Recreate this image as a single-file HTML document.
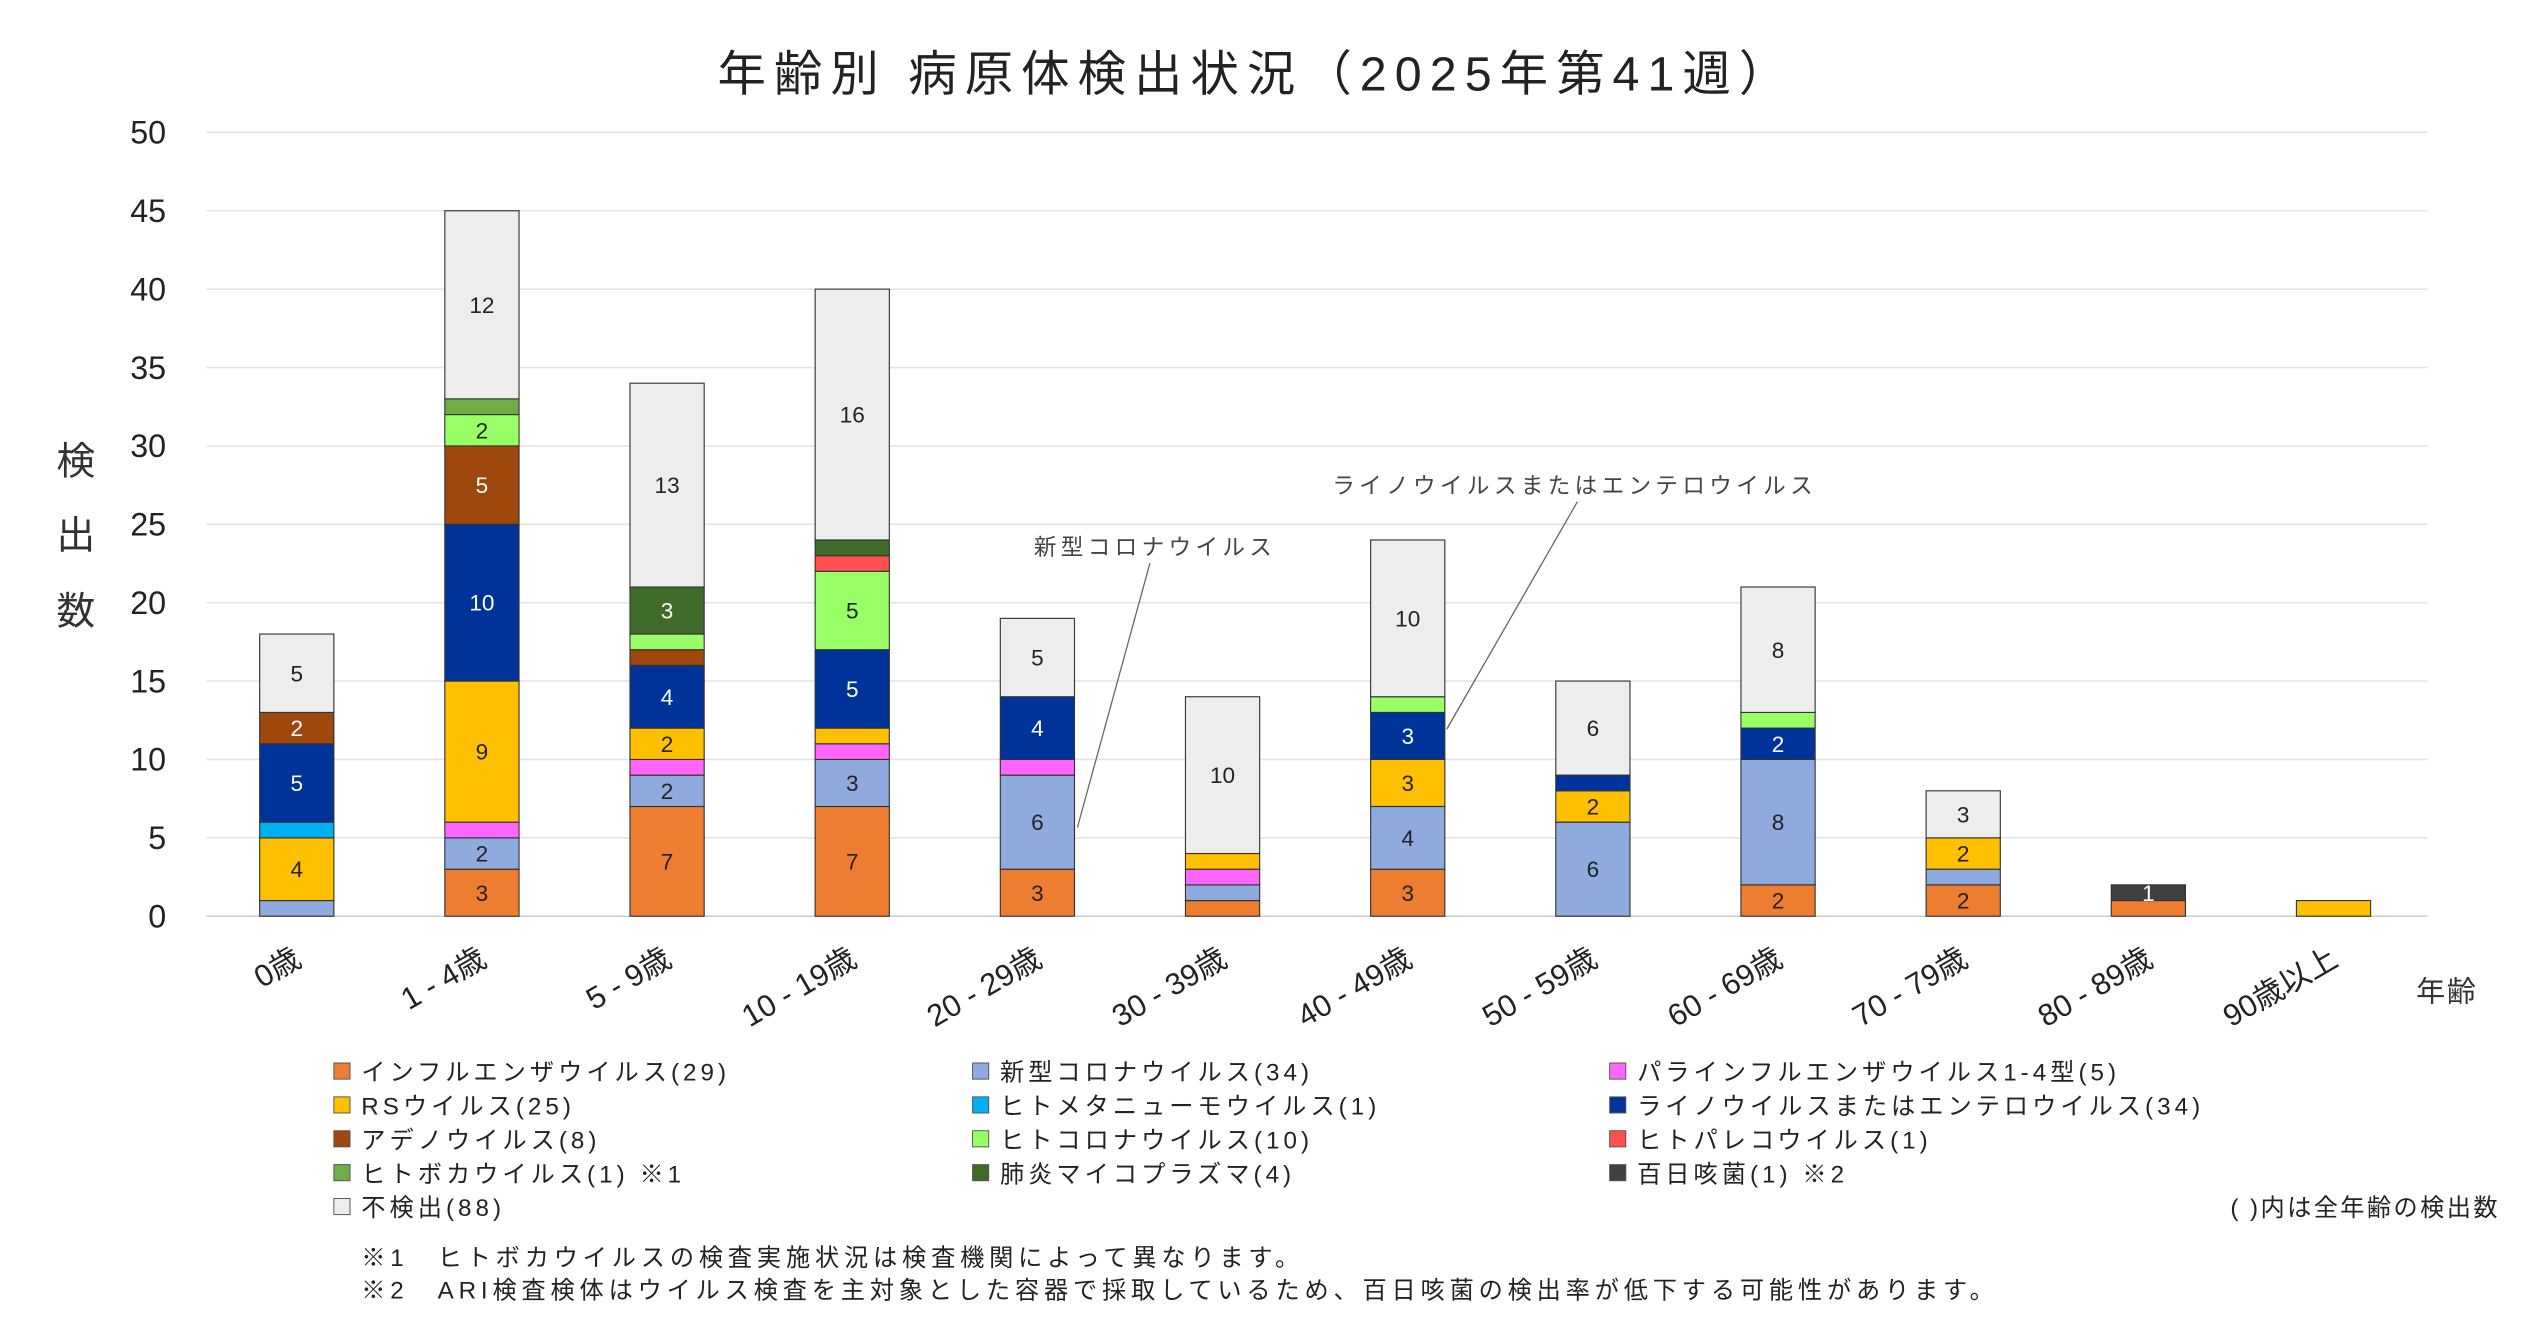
<!DOCTYPE html>
<html><head><meta charset="utf-8"><style>
html,body{margin:0;padding:0;background:#fff;}
svg{display:block;font-family:"Liberation Sans","Noto Sans CJK JP",sans-serif;}
</style></head><body>
<svg id="s" width="2529" height="1326" viewBox="0 0 1568 822" xmlns="http://www.w3.org/2000/svg">
<rect x="0" y="0" width="1568" height="822" fill="#fff"/>
<text x="779" y="56" font-size="30" text-anchor="middle" letter-spacing="5" fill="#222">年齢別 病原体検出状況（2025年第41週）</text>
<g id="grid"></g>
<g id="bars"></g>
<g font-size="24" fill="#333" text-anchor="middle">
<text x="47" y="294">検</text><text x="47" y="340">出</text><text x="47" y="387">数</text>
</g>
<text x="1517" y="621" font-size="18" text-anchor="middle" letter-spacing="1" fill="#333">年齢</text>
<text x="641" y="344" font-size="14" letter-spacing="2.7" fill="#444">新型コロナウイルス</text>
<line x1="713" y1="349" x2="668" y2="513" stroke="#666" stroke-width="0.8"/>
<text x="826" y="306" font-size="14" letter-spacing="2.7" fill="#444">ライノウイルスまたはエンテロウイルス</text>
<line x1="978" y1="311" x2="897" y2="452" stroke="#666" stroke-width="0.8"/>
<g id="leg" font-size="15" fill="#222" letter-spacing="2.5"></g>
<text x="1550" y="754" font-size="15" text-anchor="end" letter-spacing="1.5" fill="#222">( )内は全年齢の検出数</text>
<text x="224" y="785" font-size="15" letter-spacing="3" fill="#222">※1　ヒトボカウイルスの検査実施状況は検査機関によって異なります。</text>
<text x="224" y="805" font-size="15" letter-spacing="3" fill="#222">※2　ARI検査検体はウイルス検査を主対象とした容器で採取しているため、百日咳菌の検出率が低下する可能性があります。</text>
</svg>
<script>
var NS="http://www.w3.org/2000/svg";
function el(p,t,a,txt){var e=document.createElementNS(NS,t);for(var k in a)e.setAttribute(k,a[k]);if(txt!=null)e.textContent=txt;p.appendChild(e);return e;}
var y0=568,u=9.72,g=document.getElementById('grid');
for(var v=0;v<=50;v+=5){var y=y0-v*u;el(g,'line',{x1:128,x2:1505,y1:y,y2:y,stroke:v==0?'#d0d0d0':'#e4e4e4','stroke-width':1});
el(g,'text',{x:103,y:y+7,'font-size':20,'text-anchor':'end',fill:'#222'},String(v));}
var C=['#ED7D31','#8FAADC','#FF66FF','#FFC000','#00B0F0','#003399','#9E480E','#99FF66','#FF5050','#70AD47','#3F6B2A','#404040','#EDEDED'];
var dark=[5,6,10,11];
var D=[[0,1,0,4,1,5,2,0,0,0,0,0,5],[3,2,1,9,0,10,5,2,0,1,0,0,12],[7,2,1,2,0,4,1,1,0,0,3,0,13],[7,3,1,1,0,5,0,5,1,0,1,0,16],
[3,6,1,0,0,4,0,0,0,0,0,0,5],[1,1,1,1,0,0,0,0,0,0,0,0,10],[3,4,0,3,0,3,0,1,0,0,0,0,10],[0,6,0,2,0,1,0,0,0,0,0,0,6],
[2,8,0,0,0,2,0,1,0,0,0,0,8],[2,1,0,2,0,0,0,0,0,0,0,0,3],[1,0,0,0,0,0,0,0,0,0,0,1,0],[0,0,0,1,0,0,0,0,0,0,0,0,0]];
var L=['0歳','1 - 4歳','5 - 9歳','10 - 19歳','20 - 29歳','30 - 39歳','40 - 49歳','50 - 59歳','60 - 69歳','70 - 79歳','80 - 89歳','90歳以上'];
var b=document.getElementById('bars');
D.forEach(function(r,i){var cx=184+i*114.8,acc=0;
r.forEach(function(v,j){if(!v)return;var yt=y0-(acc+v)*u;
el(b,'rect',{x:cx-23,y:yt,width:46,height:v*u,fill:C[j],stroke:'#333','stroke-width':0.7});
if(v>=2||j==11)el(b,'text',{x:cx,y:yt+v*u/2+5,'font-size':14,'text-anchor':'middle',fill:dark.indexOf(j)>=0?'#fff':'#222'},String(v));
acc+=v;});
el(b,'text',{x:0,y:0,'font-size':19,'text-anchor':'end',fill:'#222',transform:'translate('+(cx+4)+',598) rotate(-30)'},L[i]);
});
var N=['インフルエンザウイルス(29)','新型コロナウイルス(34)','パラインフルエンザウイルス1-4型(5)','RSウイルス(25)','ヒトメタニューモウイルス(1)','ライノウイルスまたはエンテロウイルス(34)','アデノウイルス(8)','ヒトコロナウイルス(10)','ヒトパレコウイルス(1)','ヒトボカウイルス(1) ※1','肺炎マイコプラズマ(4)','百日咳菌(1) ※2','不検出(88)'];
var lg=document.getElementById('leg');
N.forEach(function(n,i){var c=i%3,r=Math.floor(i/3),x=[207,603,998][c],y=664+r*21;
el(lg,'rect',{x:x,y:y-5,width:10,height:10,fill:C[i],stroke:'#555','stroke-width':0.6});
el(lg,'text',{x:x+17,y:y+6},n);});
</script>
</body></html>
